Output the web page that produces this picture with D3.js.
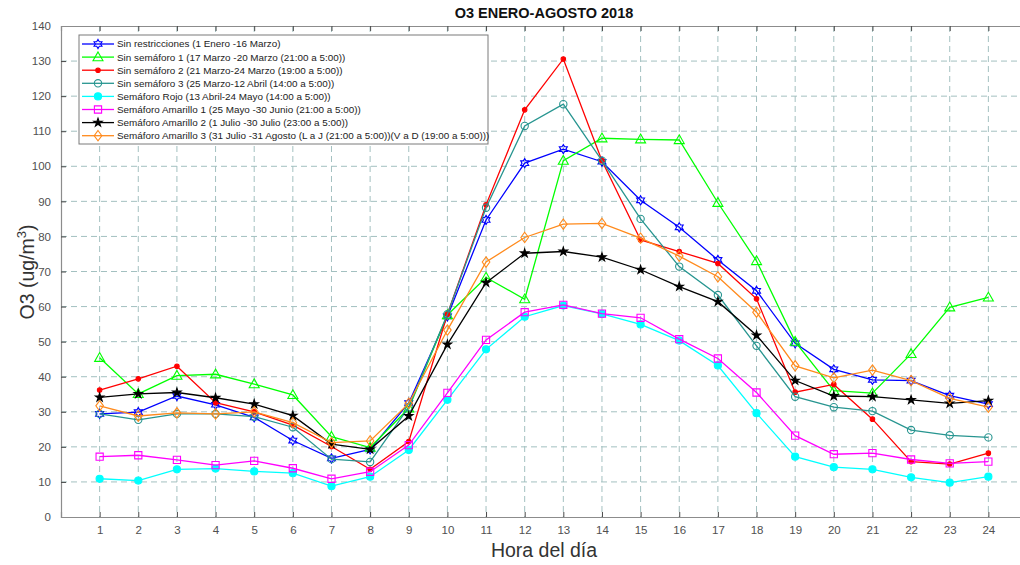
<!DOCTYPE html>
<html>
<head>
<meta charset="utf-8">
<script src="https://cdn.jsdelivr.net/npm/d3@7"></script>
<style>
  html, body { margin: 0; padding: 0; background: #fff; }
  svg { display: block; font-family: "Liberation Sans", Arial, Helvetica, sans-serif; }
</style>
</head>
<body>
<svg id="chart" width="1020" height="565"></svg>
<script>
// Hours of the day (x axis)
const hours = d3.range(1, 25);

// Ozone concentration (ug/m3) per hour, one array per period
const sinRestricciones = [29.4, 29.9, 34.5, 32.0, 28.4, 21.8, 16.7, 19.3, 32.5, 57.2, 84.7, 100.9,
  104.9, 101.3, 90.3, 82.6, 73.3, 64.5, 49.5, 42.1, 39.1, 38.9, 34.6, 32.2];
const sinSemaforo1 = [45.4, 35.1, 40.3, 40.7, 37.9, 34.8, 22.9, 19.8, 31.0, 57.6, 68.3, 62.1,
  101.6, 108.0, 107.7, 107.5, 89.6, 73.0, 50.0, 36.0, 35.3, 46.5, 59.8, 62.6];
const sinSemaforo2 = [36.2, 39.4, 43.0, 32.6, 30.0, 26.2, 20.1, 13.6, 21.5, 57.8, 89.0, 116.1,
  130.6, 101.6, 79.0, 75.7, 72.3, 62.2, 35.6, 37.8, 27.9, 15.8, 15.1, 18.2];
const sinSemaforo3 = [29.4, 27.7, 29.4, 29.4, 28.6, 25.6, 16.5, 15.7, 31.3, 57.8, 88.2, 111.5,
  117.7, 101.6, 85.0, 71.4, 63.3, 48.8, 34.3, 31.3, 30.2, 24.8, 23.3, 22.7];
const semaforoRojo = [10.9, 10.4, 13.6, 13.8, 13.0, 12.5, 8.8, 11.5, 19.1, 33.4, 47.8, 57.1,
  60.3, 57.9, 54.9, 50.3, 43.2, 29.6, 17.2, 14.2, 13.6, 11.3, 9.8, 11.5];
const amarillo1 = [17.2, 17.6, 16.3, 14.8, 16.0, 13.9, 10.9, 12.9, 20.5, 35.4, 50.5, 58.4,
  60.5, 58.0, 56.8, 50.7, 45.2, 35.5, 23.2, 17.9, 18.2, 16.4, 15.3, 15.8];
const amarillo2 = [34.1, 35.1, 35.5, 34.0, 32.2, 28.9, 20.8, 19.3, 28.8, 49.2, 66.8, 75.2,
  75.7, 74.1, 70.5, 65.7, 61.4, 51.8, 38.9, 34.5, 34.3, 33.4, 32.4, 33.2];
const amarillo3 = [31.7, 28.8, 29.7, 29.4, 30.0, 26.9, 21.2, 21.7, 32.4, 53.3, 72.7, 79.7,
  83.5, 83.7, 79.5, 74.4, 68.5, 58.4, 43.1, 39.7, 41.9, 38.9, 33.8, 31.3];

const seriesNames = [
  "Sin restricciones (1 Enero -16 Marzo)",
  "Sin semáforo 1 (17 Marzo -20 Marzo (21:00 a 5:00))",
  "Sin semáforo 2 (21 Marzo-24 Marzo (19:00 a 5:00))",
  "Sin semáforo 3 (25 Marzo-12 Abril (14:00 a 5:00))",
  "Semáforo Rojo (13 Abril-24 Mayo (14:00 a 5:00))",
  "Semáforo Amarillo 1 (25 Mayo -30 Junio (21:00 a 5:00))",
  "Semáforo Amarillo 2 (1 Julio -30 Julio (23:00 a 5:00))",
  "Semáforo Amarillo 3 (31 Julio -31 Agosto (L a J (21:00 a 5:00))(V a D (19:00 a 5:00)))"
];
const seriesValues = [sinRestricciones, sinSemaforo1, sinSemaforo2, sinSemaforo3,
  semaforoRojo, amarillo1, amarillo2, amarillo3];

const yTicks = d3.range(0, 141, 10);
const xTicks = hours;

// Line colour and marker style per series
const styles = [
  { color: "#0000ff", marker: "hexagram", filled: false },
  { color: "#00ff00", marker: "triangle", filled: false },
  { color: "#ff0000", marker: "dot", filled: true },
  { color: "#279590", marker: "circle", filled: false },
  { color: "#00ffff", marker: "bigdot", filled: true },
  { color: "#ff00ff", marker: "square", filled: false },
  { color: "#000000", marker: "pentagram", filled: true },
  { color: "#ff8a1c", marker: "diamond", filled: false }
];

const svg = d3.select("#chart");
const plot = { left: 61, right: 1027, top: 26, bottom: 517 };

const x = d3.scaleLinear().domain([0, 25]).range([plot.left, plot.right]);
const y = d3.scaleLinear().domain([0, 140]).range([plot.bottom, plot.top]);

const axisColor = "#4a4a4a";
const gridColor = "#a3c0c0";

// Dashed grid
const grid = svg.append("g");
grid.selectAll("line.gy").data(yTicks.filter(d => d > 0 && d < 140)).join("line")
  .attr("x1", plot.left).attr("x2", plot.right)
  .attr("y1", d => y(d)).attr("y2", d => y(d))
  .attr("stroke", gridColor).attr("stroke-width", 1).attr("stroke-dasharray", "6,4");
grid.selectAll("line.gx").data(xTicks).join("line")
  .attr("y1", plot.top).attr("y2", plot.bottom)
  .attr("x1", d => x(d)).attr("x2", d => x(d))
  .attr("stroke", gridColor).attr("stroke-width", 1).attr("stroke-dasharray", "6,4");

// Axes with inward ticks
const yAxis = d3.axisLeft(y).tickValues(yTicks).tickSize(-5).tickPadding(10).tickFormat(d3.format("d"));
const xAxis = d3.axisBottom(x).tickValues(xTicks).tickSize(-5).tickPadding(9).tickFormat(d3.format("d"));
const xTop = d3.axisTop(x).tickValues(xTicks).tickSize(-5).tickFormat("");

function styleAxis(g) {
  g.select(".domain").attr("stroke", "#8c8c8c").attr("stroke-width", 1.2);
  g.selectAll(".tick line").attr("stroke", axisColor);
  g.selectAll(".tick text").attr("fill", "#505050").attr("font-size", 11.5)
    .attr("font-family", "'Liberation Sans', Arial, sans-serif");
}
svg.append("g").attr("transform", `translate(${plot.left},0)`).call(yAxis).call(styleAxis);
svg.append("g").attr("transform", `translate(0,${plot.bottom})`).call(xAxis).call(styleAxis);
svg.append("g").attr("transform", `translate(0,${plot.top})`).call(xTop).call(styleAxis);

// Marker shapes
function hexagramPath(r) {
  const pts = [];
  for (let i = 0; i < 12; i++) {
    const a = -Math.PI / 2 + i * Math.PI / 6;
    const rr = i % 2 === 0 ? r : r / Math.sqrt(3);
    pts.push([rr * Math.cos(a), rr * Math.sin(a)]);
  }
  return "M" + pts.map(p => p.join(",")).join("L") + "Z";
}
function markerPath(type) {
  switch (type) {
    case "hexagram": return hexagramPath(4.6);
    case "triangle": return "M0,-5.2L5,3.6L-5,3.6Z";
    case "dot": return d3.symbol(d3.symbolCircle, 16)();
    case "circle": return d3.symbol(d3.symbolCircle, 42)();
    case "bigdot": return d3.symbol(d3.symbolCircle, 40)();
    case "square": return "M-3.6,-3.6H3.6V3.6H-3.6Z";
    case "pentagram": return d3.symbol(d3.symbolStar, 22)();
    case "diamond": return "M0,-5.2L3.8,0L0,5.2L-3.8,0Z";
  }
}

const line = d3.line().x((d, i) => x(hours[i])).y(d => y(d));

// Series lines and markers, drawn in legend order
seriesValues.forEach((vals, k) => {
  const s = styles[k];
  const g = svg.append("g");
  g.append("path").datum(vals).attr("d", line)
    .attr("fill", "none").attr("stroke", s.color).attr("stroke-width", 1.3);
  g.selectAll("path.m").data(vals).join("path")
    .attr("transform", (d, i) => `translate(${x(hours[i])},${y(d)})`)
    .attr("d", markerPath(s.marker))
    .attr("fill", s.filled ? s.color : "none")
    .attr("stroke", s.color).attr("stroke-width", 1.1);
});

// Legend
const legend = svg.append("g");
const lg = { x: 79, y: 35, w: 409, h: 109, row: 13.1, first: 9 };
legend.append("rect").attr("x", lg.x).attr("y", lg.y).attr("width", lg.w).attr("height", lg.h)
  .attr("fill", "#fff").attr("stroke", "#7a7a7a").attr("stroke-width", 1);
seriesNames.forEach((name, k) => {
  const s = styles[k];
  const cy = lg.y + lg.first + k * lg.row;
  legend.append("line").attr("x1", lg.x + 3).attr("x2", lg.x + 35).attr("y1", cy).attr("y2", cy)
    .attr("stroke", s.color).attr("stroke-width", 1.3);
  legend.append("path").attr("transform", `translate(${lg.x + 19},${cy})`)
    .attr("d", markerPath(s.marker))
    .attr("fill", s.filled ? s.color : "none")
    .attr("stroke", s.color).attr("stroke-width", 1.1);
  legend.append("text").attr("x", lg.x + 38).attr("y", cy).attr("dy", "0.35em")
    .attr("font-size", 9.9).attr("fill", "#222").text(name);
});

// Titles
svg.append("text").attr("x", 544).attr("y", 18).attr("text-anchor", "middle")
  .attr("font-size", 14.5).attr("font-weight", "bold").attr("fill", "#111")
  .text("O3 ENERO-AGOSTO 2018");

svg.append("text").attr("x", 544).attr("y", 557).attr("text-anchor", "middle")
  .attr("font-size", 19.5).attr("fill", "#333").text("Hora del día");

const yl = svg.append("text").attr("transform", "translate(34,272) rotate(-90)")
  .attr("text-anchor", "middle").attr("font-size", 19.5).attr("fill", "#333");
yl.append("tspan").text("O3 (ug/m");
yl.append("tspan").attr("font-size", 13).attr("dy", -8).text("3");
yl.append("tspan").attr("dy", 8).text(")");
</script>
</body>
</html>
